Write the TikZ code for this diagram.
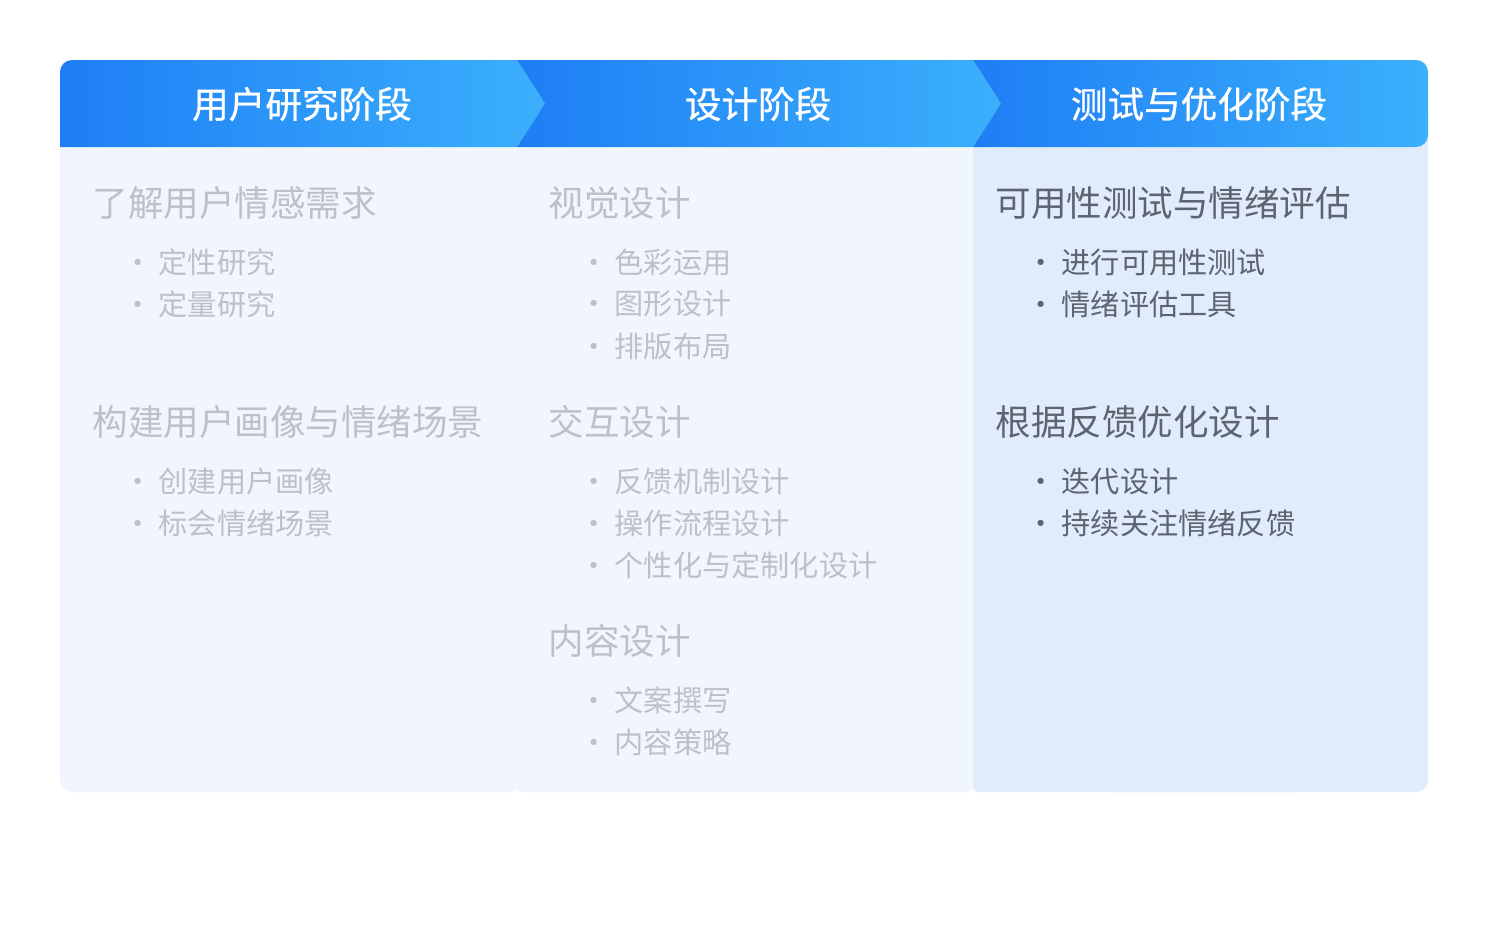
\documentclass[tikz,border=0pt]{standalone}
\usepackage{fontspec}
\newfontfamily\cjk{Noto Sans CJK SC}
\newfontfamily\cjkmid[FakeBold=0.8]{Noto Sans CJK SC}
\definecolor{hdleft}{HTML}{1E7EF5}
\definecolor{hdright}{HTML}{3BB0FC}
\definecolor{bodylight}{HTML}{F1F6FE}
\definecolor{bodyblue}{HTML}{E0ECFC}
\definecolor{fadetext}{HTML}{BBC0C9}
\definecolor{darktext}{HTML}{5D6470}
\tikzstyle{phase}=[text=white,font=\cjkmid\fontsize{10.4pt}{12pt}\selectfont,inner sep=0pt]
\tikzstyle{topic}=[anchor=west,font=\cjk\fontsize{10.1pt}{12pt}\selectfont,inner sep=0pt]
\tikzstyle{item}=[anchor=west,font=\cjk\fontsize{8.3pt}{10pt}\selectfont,inner sep=0pt]
\tikzstyle{band}=[left color=hdleft,right color=hdright]

\begin{document}
\begin{tikzpicture}[x=0.01cm,y=-0.01cm]
\useasboundingbox[fill=white] (0,0) rectangle (1500,933);
\fill[bodylight,rounded corners=3.4pt] (60,100) rectangle (400,792);
\fill[bodylight,rounded corners=1.5pt] (200,100) rectangle (517,792);
\fill[bodylight,rounded corners=1.5pt] (517,100) rectangle (973,792);
\fill[bodyblue,rounded corners=1.5pt] (973,100) rectangle (1300,792);
\fill[bodyblue,rounded corners=3.4pt] (1100,100) rectangle (1428,792);
\shade[band,rounded corners=3.4pt] (60,147) -- (60,60) [sharp corners] -- (517,60) -- (545,103.5) -- (517,147) -- cycle;
\shade[band] (517,60) -- (973,60) -- (1001,103.5) -- (973,147) -- (517,147) -- (545,103.5) -- cycle;
\shade[band,rounded corners=3.4pt] (973,60) -- (1428,60) -- (1428,147) [sharp corners] -- (973,147) -- (1001,103.5) -- cycle;
\node[phase] (ph1) at (302,104) {用户研究阶段};
\node[phase] (ph2) at (758,104) {设计阶段};
\node[phase] (ph3) at (1199,104) {测试与优化阶段};
\node[topic,text=fadetext] (t11) at (92,203) {了解用户情感需求};
\node[item,text=fadetext] (b111) at (158,262) {\llap{·\hspace{1.6pt}}定性研究};
\node[item,text=fadetext] (b112) at (158,304) {\llap{·\hspace{1.6pt}}定量研究};
\node[topic,text=fadetext] (t12) at (92,422) {构建用户画像与情绪场景};
\node[item,text=fadetext] (b121) at (158,481) {\llap{·\hspace{1.6pt}}创建用户画像};
\node[item,text=fadetext] (b122) at (158,523) {\llap{·\hspace{1.6pt}}标会情绪场景};
\node[topic,text=fadetext] (t21) at (548,203) {视觉设计};
\node[item,text=fadetext] (b211) at (614,262) {\llap{·\hspace{1.6pt}}色彩运用};
\node[item,text=fadetext] (b212) at (614,304) {\llap{·\hspace{1.6pt}}图形设计};
\node[item,text=fadetext] (b213) at (614,346) {\llap{·\hspace{1.6pt}}排版布局};
\node[topic,text=fadetext] (t22) at (548,422) {交互设计};
\node[item,text=fadetext] (b221) at (614,481) {\llap{·\hspace{1.6pt}}反馈机制设计};
\node[item,text=fadetext] (b222) at (614,523) {\llap{·\hspace{1.6pt}}操作流程设计};
\node[item,text=fadetext] (b223) at (614,565) {\llap{·\hspace{1.6pt}}个性化与定制化设计};
\node[topic,text=fadetext] (t23) at (548,641) {内容设计};
\node[item,text=fadetext] (b231) at (614,700) {\llap{·\hspace{1.6pt}}文案撰写};
\node[item,text=fadetext] (b232) at (614,742) {\llap{·\hspace{1.6pt}}内容策略};
\node[topic,text=darktext] (t31) at (995,203) {可用性测试与情绪评估};
\node[item,text=darktext] (b311) at (1061,262) {\llap{·\hspace{1.6pt}}进行可用性测试};
\node[item,text=darktext] (b312) at (1061,304) {\llap{·\hspace{1.6pt}}情绪评估工具};
\node[topic,text=darktext] (t32) at (995,422) {根据反馈优化设计};
\node[item,text=darktext] (b321) at (1061,481) {\llap{·\hspace{1.6pt}}迭代设计};
\node[item,text=darktext] (b322) at (1061,523) {\llap{·\hspace{1.6pt}}持续关注情绪反馈};
\end{tikzpicture}
\end{document}
